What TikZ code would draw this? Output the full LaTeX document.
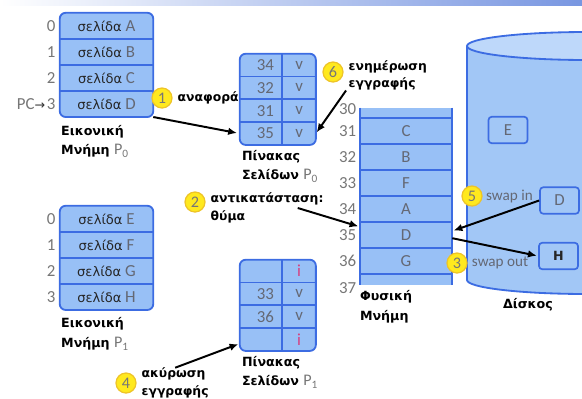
\documentclass[tikz,border=0pt]{standalone}
\usepackage{fontspec}
\setmainfont{Carlito}
\newfontfamily\grk{DejaVu Sans}
\usepackage{tikz}
\usetikzlibrary{arrows.meta,positioning,fit,backgrounds}

\definecolor{memfill}{RGB}{152,192,246}
\definecolor{memline}{RGB}{60,108,226}
\definecolor{diskfill}{RGB}{162,199,246}
\definecolor{disktop}{RGB}{190,216,250}
\definecolor{txtgray}{RGB}{100,104,116}
\definecolor{numgray}{RGB}{118,118,118}
\definecolor{invpink}{RGB}{214,64,128}
\definecolor{markfill}{RGB}{255,233,30}
\definecolor{markline}{RGB}{238,196,40}
\definecolor{bandblue}{RGB}{120,150,225}

\newcommand{\sel}{{\grk\fontsize{9.3}{11}\selectfont\color{black!85}σελίδα}}
\newcommand{\procP}[1]{{\normalfont\fontsize{11.5}{14}\selectfont\color{numgray}P\textsubscript{#1}}}

\begin{document}
\begin{tikzpicture}[
    every node/.style={font=\fontsize{12}{14}\selectfont, text=txtgray},
    frame/.style={draw=memline, fill=memfill, line width=1.3pt, rounded corners=0.15cm, inner sep=0pt},
    sep/.style={draw=memline, line width=1.3pt},
    vcell/.style={minimum width=2.325cm, minimum height=0.6375cm, inner sep=0pt},
    pcell/.style={minimum width=2.3cm, minimum height=0.6375cm, inner sep=0pt},
    tnum/.style={text width=0.65cm, align=right, inner xsep=0.2cm, inner ysep=0pt, minimum height=0.556cm},
    tbit/.style={minimum width=0.825cm, minimum height=0.556cm, inner sep=0pt},
    addr/.style={text=numgray, inner sep=0pt},
    dbox/.style={draw=memline, line width=1.2pt, rounded corners=0.08cm, minimum width=0.975cm, minimum height=0.66cm, inner sep=0pt},
    badge/.style={circle, fill=markfill, draw=markline, line width=0.9pt, minimum size=0.5cm, inner sep=0pt, text=numgray, font=\fontsize{11.5}{13}\selectfont},
    swp/.style={font=\fontsize{10.8}{13}\selectfont, inner sep=0pt},
    lbl/.style={font=\grk\bfseries\fontsize{9}{14}\selectfont, text=black, align=left, inner sep=0pt},
    note/.style={font=\grk\bfseries\fontsize{8.8}{12.5}\selectfont, text=black, align=left, inner sep=0pt},
    ptr/.style={line width=1.4pt, black, -{Latex[length=2.2mm,width=1.9mm]}}
  ]
    % Rahmen
    \useasboundingbox (0,0) rectangle (14.55,-9.95);
    \shade[left color=white, right color=bandblue] (0,0) rectangle (14.55,-0.13);

    % Festplatte
    \begin{scope}
      \clip (0,0) rectangle (14.55,-9.95);
      \filldraw[fill=diskfill, draw=memline, line width=1.3pt] (11.675,-1.15) -- (11.675,-7.0)
        arc[start angle=180, end angle=360, x radius=3.0, y radius=0.35] -- (17.675,-1.15);
      \filldraw[fill=disktop, draw=memline, line width=1.3pt] (14.675,-1.15) ellipse[x radius=3.0, y radius=0.35];
    \end{scope}
    \node[dbox] (dkE) at (12.7,-3.25) {E};
    \node[dbox] (dkD) at (13.9875,-5.0125) {D};
    \node[dbox, font=\grk\bfseries\fontsize{9}{11}\selectfont, text=black!85] (dkH) at (13.9625,-6.4) {H};
    \node[lbl] (dkl) at (13.2,-7.625) {Δίσκος};

    % Virtueller Speicher P0
    \node[vcell] (vm0r0) at (2.6625,-0.645) {\sel\ A};
    \node[vcell, below=0pt of vm0r0] (vm0r1) {\sel\ B};
    \node[vcell, below=0pt of vm0r1] (vm0r2) {\sel\ C};
    \node[vcell, below=0pt of vm0r2] (vm0r3) {\sel\ D};
    \begin{scope}[on background layer]
      \node[frame, fit=(vm0r0)(vm0r3)] (vm0) {};
    \end{scope}
    \foreach \r in {0,1,2} {\draw[sep] (vm0r\r.south west) -- (vm0r\r.south east);}
    \foreach \r in {0,...,3} {\node[addr, left=0.1cm of vm0r\r] (vm0a\r) {\r};}
    \node[addr, left=0.03cm of vm0a3] (pc) {PC{\grk\fontsize{9}{11}\selectfont\color{black!80}→}};
    \node[lbl, anchor=north west] (vm0l) at ([xshift=0.03cm,yshift=-0.19cm]vm0r3.south west) {Εικονική\\Μνήμη \procP{0}};

    % Virtueller Speicher P1
    \node[vcell] (vm1r0) at (2.6625,-5.469) {\sel\ E};
    \node[vcell, below=0pt of vm1r0] (vm1r1) {\sel\ F};
    \node[vcell, below=0pt of vm1r1] (vm1r2) {\sel\ G};
    \node[vcell, below=0pt of vm1r2] (vm1r3) {\sel\ H};
    \begin{scope}[on background layer]
      \node[frame, fit=(vm1r0)(vm1r3)] (vm1) {};
    \end{scope}
    \foreach \r in {0,1,2} {\draw[sep] (vm1r\r.south west) -- (vm1r\r.south east);}
    \foreach \r in {0,...,3} {\node[addr, left=0.1cm of vm1r\r] (vm1a\r) {\r};}
    \node[lbl, anchor=north west] (vm1l) at ([xshift=0.03cm,yshift=-0.19cm]vm1r3.south west) {Εικονική\\Μνήμη \procP{1}};

    % Seitentabelle P0
    \node[tnum] (pt0n0) at (6.525,-1.628) {34};
    \node[tnum, below=0pt of pt0n0] (pt0n1) {32};
    \node[tnum, below=0pt of pt0n1] (pt0n2) {31};
    \node[tnum, below=0pt of pt0n2] (pt0n3) {35};
    \foreach \r in {0,...,3} {\node[tbit, right=0pt of pt0n\r] (pt0b\r) {v};}
    \begin{scope}[on background layer]
      \node[frame, fit=(pt0n0)(pt0b3)] (pt0) {};
    \end{scope}
    \foreach \r in {0,1,2} {\draw[sep] (pt0n\r.south west) -- (pt0b\r.south east);}
    \draw[sep] (pt0n0.north east) -- (pt0n3.south east);
    \node[lbl, anchor=north west] (pt0l) at ([xshift=0.05cm,yshift=-0.12cm]pt0n3.south west) {Πίνακας\\Σελίδων \procP{0}};

    % Seitentabelle P1
    \node[tnum] (pt1n0) at (6.525,-6.778) {};
    \node[tnum, below=0pt of pt1n0] (pt1n1) {33};
    \node[tnum, below=0pt of pt1n1] (pt1n2) {36};
    \node[tnum, below=0pt of pt1n2] (pt1n3) {};
    \node[tbit, right=0pt of pt1n0, text=invpink] (pt1b0) {i};
    \node[tbit, right=0pt of pt1n1] (pt1b1) {v};
    \node[tbit, right=0pt of pt1n2] (pt1b2) {v};
    \node[tbit, right=0pt of pt1n3, text=invpink] (pt1b3) {i};
    \begin{scope}[on background layer]
      \node[frame, fit=(pt1n0)(pt1b3)] (pt1) {};
    \end{scope}
    \foreach \r in {0,1,2} {\draw[sep] (pt1n\r.south west) -- (pt1b\r.south east);}
    \draw[sep] (pt1n0.north east) -- (pt1n3.south east);
    \node[lbl, anchor=north west] (pt1l) at ([xshift=0.05cm,yshift=-0.12cm]pt1n3.south west) {Πίνακας\\Σελίδων \procP{1}};

    % Physikalischer Speicher
    \node[pcell] (pm31) at (10.15,-3.269) {C};
    \node[pcell, below=0pt of pm31] (pm32) {B};
    \node[pcell, below=0pt of pm32] (pm33) {F};
    \node[pcell, below=0pt of pm33] (pm34) {A};
    \node[pcell, below=0pt of pm34] (pm35) {D};
    \node[pcell, below=0pt of pm35] (pm36) {G};
    \begin{scope}[on background layer]
      \fill[memfill] ([yshift=0.25cm]pm31.north west) rectangle ([yshift=-0.27cm]pm36.south east);
    \end{scope}
    \draw[sep] ([yshift=0.25cm]pm31.north west) -- ([yshift=-0.27cm]pm36.south west);
    \draw[sep] ([yshift=0.25cm]pm31.north east) -- ([yshift=-0.27cm]pm36.south east);
    \foreach \r in {31,...,36} {\draw[sep] (pm\r.north west) -- (pm\r.north east);}
    \draw[sep] (pm36.south west) -- (pm36.south east);
    \foreach \r in {31,...,36} {\node[addr, left=0.08cm of pm\r] (pma\r) {\r};}
    \node[addr, anchor=east] (pma30) at ([xshift=-0.08cm,yshift=0.53cm]pm31.west) {30};
    \node[addr, anchor=east] (pma37) at ([xshift=-0.08cm,yshift=-0.67cm]pm36.west) {37};
    \node[lbl, anchor=north west] (pml) at ([yshift=-0.4cm]pm36.south west) {Φυσική\\Μνήμη};

    % Schritte
    \node[badge] (b1) at (4.05,-2.45) {1};
    \node[note, right=0.12cm of b1] (n1) {αναφορά};
    \node[badge] (b2) at (4.875,-5.05) {2};
    \node[note, right=0.12cm of b2, yshift=-0.15cm] (n2) {αντικατάσταση:\\θύμα};
    \node[badge] (b3) at (11.425,-6.575) {3};
    \node[swp, right=0.1cm of b3] (n3) {swap out};
    \node[badge] (b4) at (3.15,-9.575) {4};
    \node[note, right=0.12cm of b4] (n4) {ακύρωση\\εγγραφής};
    \node[badge] (b5) at (11.8,-4.9) {5};
    \node[swp, right=0.08cm of b5] (n5) {swap in};
    \node[badge] (b6) at (8.325,-1.8) {6};
    \node[note, right=0.12cm of b6, yshift=-0.08cm] (n6) {ενημέρωση\\εγγραφής};

    % Pfeile
    \draw[ptr, shorten >=2pt] (vm0r3.south east) -- (pt0n3.west);
    \draw[ptr, shorten >=1pt] ([xshift=-0.65cm]n2.east) -- ([yshift=-0.12cm]pm35.north west);
    \draw[ptr, shorten >=1pt] (dkD.west) -- ([yshift=0.1cm]pm35.east);
    \draw[ptr, shorten >=1pt] ([yshift=-0.08cm]pm35.east) -- (dkH.west);
    \draw[ptr, shorten >=1pt] (n4.north) -- ([yshift=-0.1cm]pt1n3.west);
    \draw[ptr, shorten >=1pt] ([xshift=-0.06cm]n6.south west) -- (pt0b3.east);
  \end{tikzpicture}
\end{document}
